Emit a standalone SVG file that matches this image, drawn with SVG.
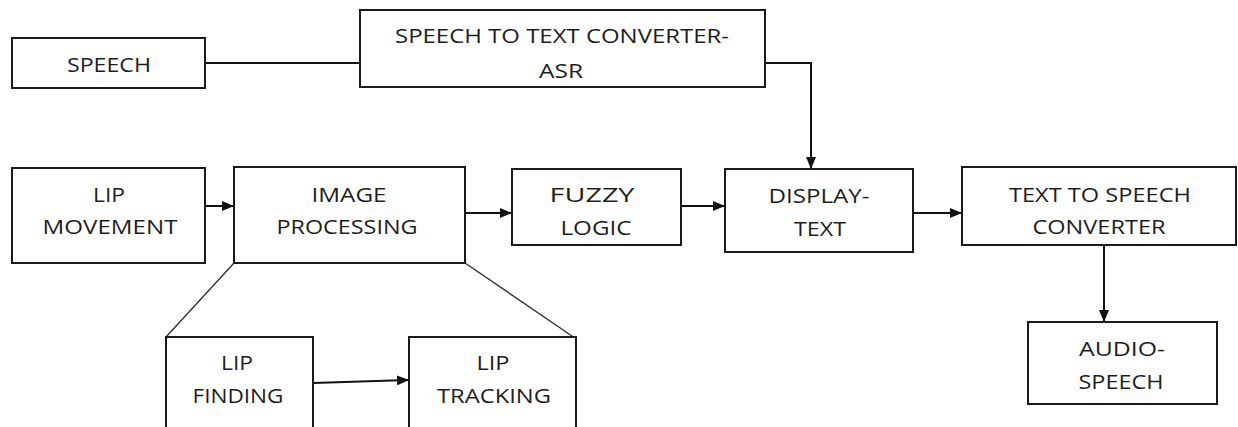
<svg xmlns="http://www.w3.org/2000/svg" width="1238" height="427" viewBox="0 0 1238 427">
<style>
.box{fill:#fff;stroke:#1a1a1a;stroke-width:2}
.t{font-family:"Open Sans","Liberation Sans",sans-serif;font-size:20px;fill:#1e1e1e;text-anchor:middle}
.c{fill:none;stroke:#111;stroke-width:2}
.d{fill:none;stroke:#333;stroke-width:1.4}
</style>
<defs>
<marker id="ah" markerUnits="userSpaceOnUse" markerWidth="12" markerHeight="10" refX="11" refY="5" orient="auto">
<path d="M0,0 L12,5 L0,10 Z" fill="#111"/>
</marker>
</defs>
<rect width="1238" height="427" fill="#fff"/>
<g id="connectors">
<line class="c" x1="205" y1="63" x2="360" y2="63"/>
<path class="c" d="M765,63 H811 V168" marker-end="url(#ah)"/>
<line class="c" x1="205" y1="206" x2="233" y2="206" marker-end="url(#ah)"/>
<line class="c" x1="465" y1="213" x2="511" y2="213" marker-end="url(#ah)"/>
<line class="c" x1="681" y1="206" x2="724" y2="206" marker-end="url(#ah)"/>
<line class="c" x1="913" y1="213" x2="961" y2="213" marker-end="url(#ah)"/>
<line class="c" x1="1104" y1="245" x2="1104" y2="321" marker-end="url(#ah)"/>
<line class="c" x1="313" y1="383" x2="408" y2="380" marker-end="url(#ah)"/>
<line class="d" x1="234" y1="263" x2="166" y2="337"/>
<line class="d" x1="465" y1="263" x2="572" y2="336"/>
</g>
<g id="speech">
<rect class="box" x="12" y="38" width="193" height="50"/>
<text class="t" x="109" y="72" textLength="84" lengthAdjust="spacingAndGlyphs">SPEECH</text>
</g>
<g id="stt">
<rect class="box" x="360" y="10" width="405" height="77"/>
<text class="t" x="562" y="43" textLength="334" lengthAdjust="spacingAndGlyphs">SPEECH TO TEXT CONVERTER-</text>
<text class="t" x="561" y="78" textLength="44" lengthAdjust="spacingAndGlyphs">ASR</text>
</g>
<g id="lipmovement">
<rect class="box" x="12" y="168" width="193" height="95"/>
<text class="t" x="109" y="202" textLength="32" lengthAdjust="spacingAndGlyphs">LIP</text>
<text class="t" x="110" y="234" textLength="135" lengthAdjust="spacingAndGlyphs">MOVEMENT</text>
</g>
<g id="imageprocessing">
<rect class="box" x="234" y="167" width="231" height="96"/>
<text class="t" x="349" y="202" textLength="75" lengthAdjust="spacingAndGlyphs">IMAGE</text>
<text class="t" x="347" y="234" textLength="141" lengthAdjust="spacingAndGlyphs">PROCESSING</text>
</g>
<g id="fuzzylogic">
<rect class="box" x="512" y="169" width="169" height="76"/>
<text class="t" x="592" y="202" textLength="85" lengthAdjust="spacingAndGlyphs">FUZZY</text>
<text class="t" x="596" y="235" textLength="71" lengthAdjust="spacingAndGlyphs">LOGIC</text>
</g>
<g id="displaytext">
<rect class="box" x="725" y="169" width="188" height="83"/>
<text class="t" x="819" y="203" textLength="101" lengthAdjust="spacingAndGlyphs">DISPLAY-</text>
<text class="t" x="820" y="236" textLength="52" lengthAdjust="spacingAndGlyphs">TEXT</text>
</g>
<g id="tts">
<rect class="box" x="962" y="167" width="274" height="78"/>
<text class="t" x="1100" y="202" textLength="182" lengthAdjust="spacingAndGlyphs">TEXT TO SPEECH</text>
<text class="t" x="1099" y="234" textLength="133" lengthAdjust="spacingAndGlyphs">CONVERTER</text>
</g>
<g id="audiospeech">
<rect class="box" x="1028" y="322" width="189" height="82"/>
<text class="t" x="1122" y="356" textLength="86" lengthAdjust="spacingAndGlyphs">AUDIO-</text>
<text class="t" x="1121" y="389" textLength="85" lengthAdjust="spacingAndGlyphs">SPEECH</text>
</g>
<g id="lipfinding">
<rect class="box" x="166" y="337" width="147" height="100"/>
<text class="t" x="237" y="370" textLength="32" lengthAdjust="spacingAndGlyphs">LIP</text>
<text class="t" x="238" y="403" textLength="91" lengthAdjust="spacingAndGlyphs">FINDING</text>
</g>
<g id="liptracking">
<rect class="box" x="409" y="337" width="167" height="100"/>
<text class="t" x="493" y="370" textLength="33" lengthAdjust="spacingAndGlyphs">LIP</text>
<text class="t" x="494" y="403" textLength="114" lengthAdjust="spacingAndGlyphs">TRACKING</text>
</g>
</svg>
